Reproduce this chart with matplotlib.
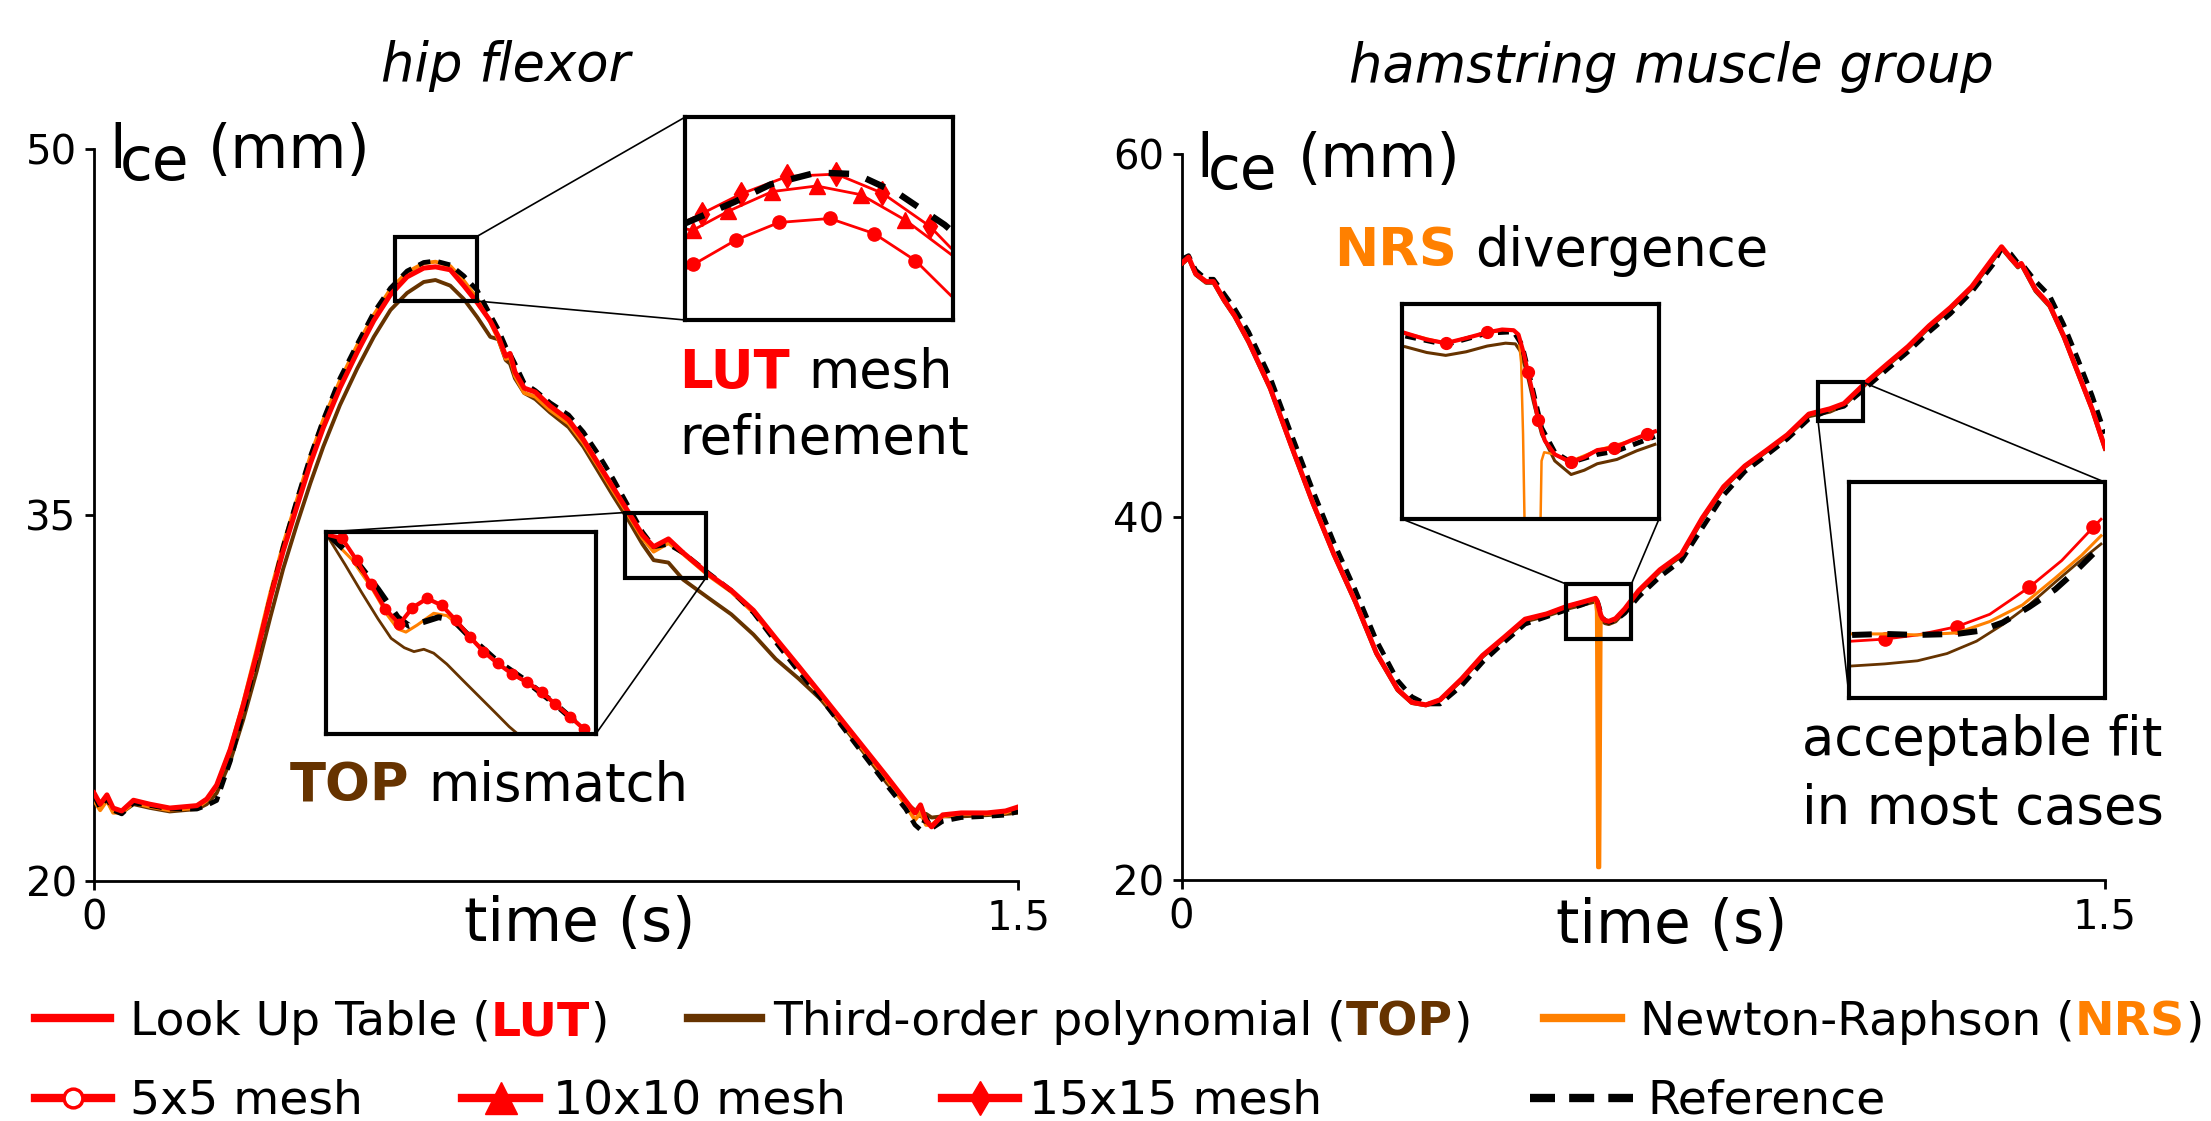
import matplotlib
matplotlib.use('Agg')
import matplotlib.pyplot as plt
from matplotlib.lines import Line2D
from matplotlib.patches import Rectangle, ConnectionPatch

plt.rcParams['font.family'] = ['DejaVu Sans']

W, H = 2211, 1121
RED = '#ff0000'
ORANGE = '#ff8000'
BROWN = '#663300'
BLACK = '#000000'

# ---------------- main data: hip flexor ----------------
hip_t = [0.000, 0.010, 0.021, 0.031, 0.045, 0.064, 0.090, 0.123, 0.167, 0.183,
         0.199, 0.221, 0.242, 0.264, 0.286, 0.307, 0.329, 0.351, 0.372, 0.399,
         0.427, 0.454, 0.481, 0.508, 0.535, 0.554, 0.578, 0.600, 0.622, 0.643,
         0.656, 0.668, 0.675, 0.683, 0.698, 0.716, 0.740, 0.770, 0.794, 0.818,
         0.842, 0.866, 0.890, 0.908, 0.932, 0.956, 0.998, 1.034, 1.070, 1.106,
         1.143, 1.179, 1.215, 1.251, 1.287, 1.317, 1.332, 1.341, 1.350, 1.359,
         1.377, 1.407, 1.449, 1.479, 1.500]
hip_lut = [23.61, 23.15, 23.53, 22.99, 22.87, 23.31, 23.15, 22.99, 23.09, 23.36,
           23.93, 25.39, 27.19, 29.30, 31.58, 33.53, 35.33, 37.11, 38.58, 40.21,
           41.67, 42.97, 44.03, 44.76, 45.12, 45.17, 45.05, 44.40, 43.70, 42.95,
           42.32, 41.51, 41.62, 40.86, 40.20, 40.04, 39.47, 38.90, 38.09, 37.11,
           36.14, 35.16, 34.18, 33.70, 34.02, 33.45, 32.56, 31.91, 31.09, 29.95,
           28.81, 27.68, 26.54, 25.40, 24.26, 23.28, 22.79, 23.12, 22.47, 22.22,
           22.71, 22.79, 22.79, 22.87, 23.04]
hip_ref = [23.50, 23.00, 23.40, 22.90, 22.75, 23.20, 23.10, 22.95, 22.95, 23.10,
           23.30, 24.90, 26.90, 29.20, 31.60, 33.70, 35.60, 37.40, 38.90, 40.60,
           42.00, 43.30, 44.30, 45.00, 45.35, 45.41, 45.25, 44.80, 44.20, 43.20,
           42.60, 41.90, 41.60, 41.20, 40.40, 40.10, 39.60, 39.10, 38.40, 37.50,
           36.50, 35.40, 34.30, 33.70, 33.80, 33.45, 32.60, 31.90, 31.00, 29.80,
           28.60, 27.50, 26.30, 25.10, 23.90, 22.95, 22.30, 22.10, 22.60, 22.15,
           22.45, 22.60, 22.65, 22.70, 22.85]
hip_nrs = [23.30, 22.90, 23.30, 22.80, 22.80, 23.20, 23.05, 22.90, 23.00, 23.30,
           23.90, 25.40, 27.30, 29.50, 31.80, 33.80, 35.60, 37.40, 38.90, 40.50,
           41.95, 43.20, 44.25, 44.95, 45.32, 45.38, 45.20, 44.60, 43.85, 42.90,
           42.20, 41.40, 41.45, 40.70, 40.00, 39.85, 39.30, 38.75, 37.95, 37.00,
           36.00, 35.05, 34.05, 33.50, 33.85, 33.40, 32.50, 31.85, 31.00, 29.90,
           28.75, 27.60, 26.45, 25.30, 24.15, 23.10, 22.50, 22.80, 22.30, 22.30,
           22.65, 22.75, 22.75, 22.80, 23.00]
hip_top = [23.40, 23.00, 23.35, 22.85, 22.80, 23.15, 23.00, 22.85, 22.95, 23.15,
           23.60, 24.90, 26.60, 28.60, 30.80, 32.80, 34.60, 36.30, 37.80, 39.50,
           41.00, 42.30, 43.40, 44.10, 44.55, 44.63, 44.40, 43.85, 43.10, 42.30,
           42.20, 41.35, 41.20, 40.60, 40.00, 39.75, 39.20, 38.60, 37.80, 36.80,
           35.80, 34.84, 33.80, 33.15, 33.05, 32.35, 31.58, 30.93, 30.10, 29.10,
           28.30, 27.45, 26.37, 25.20, 24.00, 23.20, 22.90, 22.65, 22.75, 22.60,
           22.65, 22.65, 22.70, 22.75, 22.80]

# ---------------- main data: hamstring muscle group ----------------
ham_t = [0.000, 0.0115, 0.023, 0.040, 0.052, 0.069, 0.086, 0.109, 0.144, 0.178,
         0.213, 0.2475, 0.282, 0.3166, 0.351, 0.374, 0.397, 0.420, 0.455, 0.489,
         0.524, 0.558, 0.593, 0.627, 0.650, 0.6725, 0.6746, 0.6765, 0.6787, 0.681,
         0.684, 0.688, 0.694, 0.705, 0.720, 0.7425, 0.777, 0.812, 0.846, 0.8806,
         0.915, 0.950, 0.984, 1.019, 1.053, 1.076, 1.111, 1.145, 1.180, 1.2145,
         1.249, 1.2836, 1.318, 1.332, 1.347, 1.3585, 1.364, 1.387, 1.410, 1.433,
         1.456, 1.479, 1.500]
ham_lut = [53.97, 54.32, 53.40, 52.97, 52.97, 51.97, 51.11, 49.68, 47.11, 43.96,
           40.81, 37.95, 35.37, 32.51, 30.51, 29.79, 29.65, 29.93, 31.08, 32.37,
           33.37, 34.37, 34.66, 35.09, 35.30, 35.52, 35.40, 35.20, 34.90, 34.60,
           34.40, 34.30, 34.25, 34.40, 34.94, 35.94, 37.09, 37.95, 39.95, 41.67,
           42.81, 43.67, 44.53, 45.67, 45.96, 46.25, 47.39, 48.39, 49.39, 50.54,
           51.54, 52.69, 54.26, 54.89, 54.26, 53.83, 53.97, 52.54, 51.68, 49.97,
           47.96, 45.96, 43.81]
ham_ref = [54.20, 54.40, 53.60, 53.10, 53.10, 52.30, 51.50, 50.20, 47.70, 44.60,
           41.50, 38.60, 36.00, 33.20, 31.00, 30.10, 29.70, 29.70, 30.70, 32.00,
           33.10, 34.10, 34.50, 34.90, 35.15, 35.45, 35.40, 35.25, 35.00, 34.70,
           34.45, 34.30, 34.20, 34.30, 34.70, 35.60, 36.70, 37.60, 39.40, 41.20,
           42.50, 43.40, 44.30, 45.40, 45.90, 46.10, 47.10, 48.10, 49.10, 50.20,
           51.20, 52.40, 53.90, 54.80, 54.50, 54.00, 54.00, 53.00, 52.20, 50.60,
           48.70, 46.70, 44.60]
ham_top = [53.90, 54.25, 53.35, 52.90, 52.90, 51.90, 51.05, 49.60, 47.05, 43.90,
           40.75, 37.90, 35.30, 32.45, 30.45, 29.75, 29.62, 29.90, 31.00, 32.30,
           33.30, 34.25, 34.55, 34.95, 35.15, 35.35, 35.25, 35.05, 34.75, 34.45,
           34.25, 34.15, 34.10, 34.25, 34.80, 35.85, 37.00, 37.85, 39.85, 41.60,
           42.75, 43.60, 44.45, 45.55, 45.80, 46.15, 47.30, 48.30, 49.30, 50.45,
           51.45, 52.60, 54.15, 54.80, 54.20, 53.75, 53.90, 52.45, 51.60, 49.90,
           47.90, 45.90, 43.75]
ham_nrs = [53.95, 54.30, 53.40, 52.95, 52.95, 51.95, 51.10, 49.65, 47.10, 43.95,
           40.80, 37.95, 35.35, 32.50, 30.50, 29.78, 29.65, 29.92, 31.05, 32.35,
           33.35, 34.35, 34.65, 35.08, 35.30, 35.50, 34.80, 20.70, 20.70, 34.50,
           34.38, 34.28, 34.24, 34.38, 34.92, 35.92, 37.07, 37.93, 39.93, 41.65,
           42.80, 43.65, 44.50, 45.65, 45.93, 46.22, 47.36, 48.36, 49.36, 50.52,
           51.52, 52.67, 54.24, 54.87, 54.24, 53.81, 53.95, 52.52, 51.66, 49.95,
           47.94, 45.94, 43.80]

# ---------------- zoom A: hip flexor peak, LUT mesh refinement ----------------
zA_xlim = (0.491, 0.619)
zA_ylim = (43.92, 46.48)
zA_ref_t = [0.491, 0.5146, 0.5318, 0.5538, 0.5727, 0.5931, 0.615, 0.619]
zA_ref = [45.14, 45.41, 45.63, 45.78, 45.76, 45.51, 45.12, 45.03]
zA_15_t = [0.491, 0.4988, 0.5177, 0.5397, 0.5632, 0.5852, 0.608, 0.6179]
zA_15 = [45.16, 45.26, 45.51, 45.73, 45.76, 45.52, 45.10, 44.83]
zA_10_t = [0.491, 0.4945, 0.5114, 0.5326, 0.5538, 0.575, 0.5962, 0.6179]
zA_10 = [45.07, 45.05, 45.29, 45.54, 45.61, 45.50, 45.18, 44.75]
zA_5_t = [0.491, 0.4949, 0.5153, 0.5358, 0.5601, 0.5813, 0.601, 0.6179]
zA_5 = [44.56, 44.62, 44.93, 45.15, 45.20, 45.01, 44.67, 44.23]

# ---------------- zoom B: hip flexor, TOP mismatch ----------------
zB_xlim = (0.862, 0.9935)
zB_ylim = (32.55, 35.13)
zB_lut_t = [0.8636, 0.8700, 0.8771, 0.8840, 0.8910, 0.8979, 0.9042, 0.9114, 0.9186, 0.9254,
            0.9321, 0.9388, 0.9457, 0.9529, 0.9600, 0.9672, 0.9736, 0.9808, 0.9876]
zB_lut = [35.09, 35.05, 34.77, 34.46, 34.15, 33.95, 34.16, 34.28, 34.19, 34.00,
          33.79, 33.60, 33.45, 33.31, 33.21, 33.08, 32.93, 32.77, 32.61]
zB_ref_t = [0.8636, 0.8763, 0.8875, 0.8971, 0.9026, 0.9098, 0.9170, 0.9242, 0.9321, 0.9449,
            0.9592, 0.9736, 0.9879]
zB_ref = [35.09, 34.78, 34.40, 34.04, 33.93, 33.98, 34.04, 34.00, 33.79, 33.49,
          33.23, 32.93, 32.60]
zB_nrs_t = [0.8636, 0.8748, 0.8843, 0.8923, 0.8971, 0.9011, 0.9066, 0.9146, 0.9210, 0.9258,
            0.9353, 0.9465, 0.9592, 0.9736, 0.9879]
zB_nrs = [35.08, 34.78, 34.42, 34.06, 33.89, 33.85, 33.94, 34.09, 34.06, 33.96,
          33.71, 33.44, 33.21, 32.93, 32.60]
zB_top_t = [0.8636, 0.8716, 0.8795, 0.8875, 0.8939, 0.9003, 0.9050, 0.9098, 0.9146, 0.9210,
            0.9289, 0.9369, 0.9449, 0.9513, 0.9553, 0.9600]
zB_top = [35.05, 34.71, 34.36, 34.02, 33.77, 33.65, 33.60, 33.63, 33.58, 33.44,
          33.23, 33.02, 32.81, 32.64, 32.55, 32.40]

# ---------------- zoom C: hamstring, NRS divergence ----------------
zC_xlim = (0.624, 0.731)
zC_ylim = (33.37, 36.37)
zC_lut_t = [0.6254, 0.6343, 0.6422, 0.6507, 0.6595, 0.6657, 0.6705, 0.6725, 0.6746, 0.6764,
            0.6787, 0.6807, 0.6835, 0.6876, 0.6944, 0.6999, 0.7053, 0.7122, 0.7190, 0.7258,
            0.7293]
zC_lut = [35.96, 35.87, 35.82, 35.89, 35.97, 36.01, 36.00, 35.94, 35.69, 35.42,
          35.09, 34.75, 34.46, 34.27, 34.16, 34.23, 34.33, 34.36, 34.46, 34.55,
          34.59]
zC_ref_t = [0.6254, 0.6422, 0.6595, 0.6705, 0.6739, 0.6780, 0.6821, 0.6876, 0.6944, 0.7053,
            0.7135, 0.7293]
zC_ref = [35.92, 35.80, 35.96, 35.98, 35.80, 35.23, 34.64, 34.30, 34.16, 34.27,
          34.32, 34.52]
zC_top_t = [0.6254, 0.6343, 0.6422, 0.6507, 0.6595, 0.6671, 0.6712, 0.6732, 0.6759, 0.6787,
            0.6821, 0.6876, 0.6944, 0.6999, 0.7053, 0.7135, 0.7217, 0.7293]
zC_top = [35.77, 35.69, 35.65, 35.70, 35.78, 35.82, 35.81, 35.71, 35.41, 35.00,
          34.55, 34.18, 33.99, 34.05, 34.14, 34.20, 34.32, 34.41]
zC_nrs_t = [0.6254, 0.6422, 0.6595, 0.6705, 0.6725, 0.6736, 0.6744, 0.6750, 0.6755, 0.6812,
            0.6817, 0.6821, 0.6832, 0.6876, 0.6944, 0.7053, 0.7190, 0.7293]
zC_nrs = [35.96, 35.82, 35.97, 36.00, 35.91, 35.55, 34.55, 33.37, 20.70, 20.70,
          33.37, 34.18, 34.30, 34.27, 34.18, 34.33, 34.46, 34.59]

# ---------------- zoom D: hamstring, acceptable fit ----------------
zD_xlim = (1.034, 1.1074)
zD_ylim = (45.30, 47.39)
zD_lut_t = [1.0348, 1.0442, 1.0536, 1.0649, 1.0744, 1.0857, 1.0951, 1.1041, 1.1064]
zD_lut = [45.85, 45.87, 45.91, 45.99, 46.11, 46.37, 46.63, 46.95, 47.03]
zD_nrs_t = [1.0348, 1.0442, 1.0536, 1.0649, 1.0744, 1.0838, 1.0932, 1.1008, 1.1064]
zD_nrs = [45.92, 45.92, 45.91, 45.93, 46.04, 46.20, 46.46, 46.68, 46.87]
zD_ref_t = [1.0348, 1.0442, 1.0536, 1.0649, 1.0715, 1.0781, 1.0857, 1.0932, 1.0998, 1.1064]
zD_ref = [45.91, 45.92, 45.91, 45.92, 45.95, 46.03, 46.18, 46.35, 46.55, 46.77]
zD_top_t = [1.0348, 1.0442, 1.0536, 1.0621, 1.0706, 1.0781, 1.0857, 1.0932, 1.0998, 1.1064]
zD_top = [45.61, 45.63, 45.66, 45.73, 45.85, 46.01, 46.20, 46.42, 46.61, 46.79]

# zoom boxes in the main panels (t0, t1, y0, y1)
boxA = (0.4884, 0.6209, 43.77, 46.41)
boxB = (0.8609, 0.9930, 32.43, 35.10)
boxC = (0.6239, 0.7309, 33.29, 36.32)
boxD = (1.0339, 1.1074, 45.31, 47.42)

# ============================================================
fig = plt.figure(figsize=(W / 100, H / 100), dpi=100)
fig.patch.set_facecolor('white')
renderer = fig.canvas.get_renderer()


def px_axes(x0, y0, x1, y1):
    return fig.add_axes([x0 / W, 1 - y1 / H, (x1 - x0) / W, (y1 - y0) / H])


def ftext(x, y, s, **kw):
    kw.setdefault('ha', 'left')
    kw.setdefault('va', 'baseline')
    return fig.text(x / W, 1 - y / H, s, **kw)


def ink_width(s, size, kw):
    t = fig.text(0, 0, s, fontsize=size, **kw)
    w = t.get_window_extent(renderer).width
    t.remove()
    return w


def rich(x, y, pieces, size):
    """Draw consecutive text pieces with different styles on one baseline."""
    cx = x
    prev = None
    for s, kw in pieces:
        if prev is not None:
            ps, pkw = prev
            body = s.lstrip(' ')
            lead = s[:len(s) - len(body)]
            c = body[0]
            cx = cx + ink_width(ps + lead + c, size, pkw) - ink_width(c, size, pkw)
            s = body
        fig.text(cx / W, 1 - y / H, s, fontsize=size, ha='left', va='baseline', **kw)
        prev = (s, kw)


def style_main(ax, ylim, yticks):
    ax.set_xlim(0, 1.5)
    ax.set_ylim(*ylim)
    ax.set_xticks([0, 1.5])
    ax.set_xticklabels(['0', '1.5'])
    ax.set_yticks(yticks)
    ax.set_yticklabels([str(v) for v in yticks])
    for s in ('top', 'right'):
        ax.spines[s].set_visible(False)
    for s in ('left', 'bottom'):
        ax.spines[s].set_linewidth(2)
    ax.tick_params(labelsize=29, width=2, length=6.5, pad=6)
    ax.patch.set_alpha(0)


def plot_main(ax, t, ref, lut, top, nrs):
    ax.plot(t, top, color=BROWN, lw=2.8, zorder=2, solid_joinstyle='round')
    ax.plot(t, nrs, color=ORANGE, lw=2.8, zorder=3, solid_joinstyle='round')
    ax.plot(t, ref, color=BLACK, lw=3.4, dashes=(2.6, 1.7), zorder=4)
    ax.plot(t, lut, color=RED, lw=3.6, zorder=5, solid_joinstyle='round')


def add_box(ax, box):
    t0, t1, y0, y1 = box
    ax.add_patch(Rectangle((t0, y0), t1 - t0, y1 - y0, fill=False, lw=3,
                           ec='black', zorder=7, clip_on=False))


def make_inset(x0, y0, x1, y1, xlim, ylim):
    a = px_axes(x0, y0, x1, y1)
    a.set_xlim(*xlim)
    a.set_ylim(*ylim)
    a.set_xticks([])
    a.set_yticks([])
    for s in a.spines.values():
        s.set_linewidth(3)
    a.set_facecolor('white')
    a.set_zorder(5)
    return a


def connect(ax, axin, pA, pB):
    cp = ConnectionPatch(xyA=pA, coordsA=ax.transData, xyB=pB, coordsB=axin.transAxes,
                         color='black', lw=1.2, zorder=3)
    fig.add_artist(cp)


# ---------------- main panels ----------------
ax1 = px_axes(94, 149, 1018.5, 881)
ax2 = px_axes(1181.5, 154, 2105, 880)
style_main(ax1, (20, 50), [20, 35, 50])
style_main(ax2, (20, 60), [20, 40, 60])
plot_main(ax1, hip_t, hip_ref, hip_lut, hip_top, hip_nrs)
plot_main(ax2, ham_t, ham_ref, ham_lut, ham_top, ham_nrs)

ax1.set_xlabel('time (s)', fontsize=43, va='center')
ax1.xaxis.set_label_coords(0.5257, -0.060)
ax2.set_xlabel('time (s)', fontsize=43, va='center')
ax2.xaxis.set_label_coords(0.5311, -0.0647)

for b, a in ((boxA, ax1), (boxB, ax1), (boxC, ax2), (boxD, ax2)):
    add_box(a, b)

# ---------------- inset A ----------------
iA = make_inset(685.3, 117, 953, 320, zA_xlim, zA_ylim)
iA.plot(zA_5_t, zA_5, color=RED, lw=2, marker='o', ms=9.5, mfc=RED, mec=RED, markevery=[1, 2, 3, 4, 5, 6])
iA.plot(zA_10_t, zA_10, color=RED, lw=2, marker='^', ms=12, mfc=RED, mec=RED, markevery=[1, 2, 3, 4, 5, 6])
iA.plot(zA_15_t, zA_15, color=RED, lw=2, marker='d', ms=12, mfc=RED, mec=RED, markevery=[1, 2, 3, 4, 5, 6])
iA.plot(zA_ref_t, zA_ref, color=BLACK, lw=4.6, dashes=(3.2, 2.8))
connect(ax1, iA, (boxA[1], boxA[3]), (0, 1))
connect(ax1, iA, (boxA[1], boxA[2]), (0, 0))

# ---------------- inset B ----------------
iB = make_inset(325.5, 532, 596, 733.7, zB_xlim, zB_ylim)
iB.plot(zB_top_t, zB_top, color=BROWN, lw=2)
iB.plot(zB_nrs_t, zB_nrs, color=ORANGE, lw=2.2)
iB.plot(zB_ref_t, zB_ref, color=BLACK, lw=4.3, dashes=(3.3, 2.4))
iB.plot(zB_lut_t, zB_lut, color=RED, lw=3, marker='o', ms=7.5, mfc=RED, mec=RED,
        markevery=list(range(1, len(zB_lut_t))))
connect(ax1, iB, (boxB[0], boxB[3]), (0, 1))
connect(ax1, iB, (boxB[1], boxB[2]), (1, 0))

# ---------------- inset C ----------------
iC = make_inset(1402, 303.7, 1659, 519, zC_xlim, zC_ylim)
iC.plot(zC_top_t, zC_top, color=BROWN, lw=2.2)
iC.plot(zC_nrs_t, zC_nrs, color=ORANGE, lw=1.8)
iC.plot(zC_ref_t, zC_ref, color=BLACK, lw=3.6, dashes=(2.2, 1.6))
iC.plot(zC_lut_t, zC_lut, color=RED, lw=3, marker='o', ms=8.5, mfc=RED, mec=RED,
        markevery=[2, 4, 9, 11, 14, 17, 19])
connect(ax2, iC, (boxC[0], boxC[3]), (0, 0))
connect(ax2, iC, (boxC[1], boxC[3]), (1, 0))

# ---------------- inset D ----------------
iD = make_inset(1849.3, 482, 2104.5, 698, zD_xlim, zD_ylim)
iD.plot(zD_top_t, zD_top, color=BROWN, lw=2)
iD.plot(zD_lut_t, zD_lut, color=RED, lw=2, marker='o', ms=9.5, mfc=RED, mec=RED,
        markevery=[1, 3, 5, 7])
iD.plot(zD_nrs_t, zD_nrs, color=ORANGE, lw=2.2)
iD.plot(zD_ref_t, zD_ref, color=BLACK, lw=4.3, dashes=(3.3, 2.6))
connect(ax2, iD, (boxD[1], boxD[3]), (1, 1))
connect(ax2, iD, (boxD[0], boxD[2]), (0, 0))

# ---------------- titles and labels ----------------
ftext(505.6, 81, 'hip flexor', fontsize=38, style='italic', ha='center')
ftext(1671, 82, 'hamstring muscle group', fontsize=38, style='italic', ha='center')

ftext(109, 168, 'l', fontsize=43)
ftext(120, 180, 'ce', fontsize=43)
ftext(208, 168, '(mm)', fontsize=43)
ftext(1196, 177, 'l', fontsize=43)
ftext(1208, 189, 'ce', fontsize=43)
ftext(1298, 177, '(mm)', fontsize=43)

bold = {'weight': 'bold'}
rich(679.4, 388, [('LUT', dict(color=RED, **bold)), (' mesh', {})], 38)
ftext(679.4, 454, 'refinement', fontsize=38)
rich(290, 801, [('TOP', dict(color=BROWN, **bold)), (' mismatch', {})], 38)
rich(1334, 266, [('NRS', dict(color=ORANGE, **bold)), (' divergence', {})], 38)
ftext(1801.6, 755, 'acceptable fit', fontsize=38)
ftext(1801.6, 824, 'in most cases', fontsize=38)

# ---------------- legend (drawn by hand, two rows) ----------------
def leg_line(x0, x1, y, **kw):
    xc = (x0 + x1) / 2
    ln = Line2D([x0 / W, xc / W, x1 / W], [1 - y / H] * 3, transform=fig.transFigure, **kw)
    fig.add_artist(ln)


LS = 34
R1, R1B = 1018, 1035
R2, R2B = 1098, 1113
leg_line(35, 110, R1, color=RED, lw=6)
rich(130, R1B, [('Look Up Table (', {}), ('LUT', dict(color=RED, **bold)), (')', {})], LS)
leg_line(688, 761, R1, color=BROWN, lw=6)
rich(773, R1B, [('Third-order polynomial (', {}), ('TOP', dict(color=BROWN, **bold)), (')', {})], LS)
leg_line(1544, 1621, R1, color=ORANGE, lw=6)
rich(1640, R1B, [('Newton-Raphson (', {}), ('NRS', dict(color=ORANGE, **bold)), (')', {})], LS)

leg_line(35, 111, R2, color=RED, lw=6, marker='o', ms=13.5, mfc='white', mec=RED, mew=2.5, markevery=[1])
ftext(130, R2B, '5x5 mesh', fontsize=LS)
leg_line(462, 539, R2, color=RED, lw=6, marker='^', ms=23, mfc=RED, mec=RED, markevery=[1])
ftext(553, R2B, '10x10 mesh', fontsize=LS)
leg_line(942, 1018, R2, color=RED, lw=6, marker='d', ms=17, mfc=RED, mec=RED, markevery=[1])
ftext(1029, R2B, '15x15 mesh', fontsize=LS)
leg_line(1530, 1633, R2, color=BLACK, lw=6, dashes=(3.0, 1.7))
ftext(1647, R2B, 'Reference', fontsize=LS)

fig.savefig('out.png', dpi=100, facecolor='white')
